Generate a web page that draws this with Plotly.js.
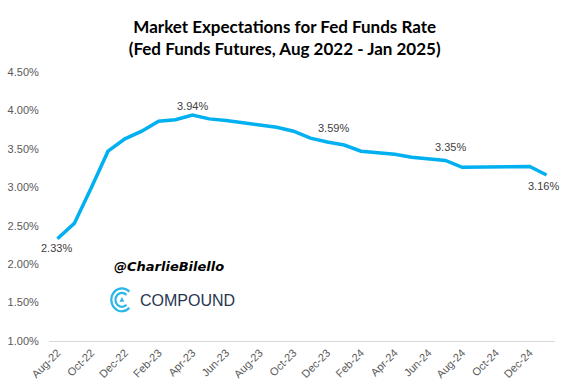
<!DOCTYPE html>
<html>
<head>
<meta charset="utf-8">
<script src="https://cdn.plot.ly/plotly-3.0.1.min.js"></script>
<style>html,body{margin:0;padding:0;background:#fff;}#chart{width:566px;height:392px;}</style>
</head>
<body>
<div id="chart"></div>
<script>
// Months (Aug 2022 - Jan 2025)
const months = ["Aug-22","Sep-22","Oct-22","Nov-22","Dec-22","Jan-23","Feb-23","Mar-23","Apr-23","May-23","Jun-23","Jul-23",
  "Aug-23","Sep-23","Oct-23","Nov-23","Dec-23","Jan-24","Feb-24","Mar-24","Apr-24","May-24","Jun-24","Jul-24",
  "Aug-24","Sep-24","Oct-24","Nov-24","Dec-24","Jan-25"];
// Expected Fed Funds Rate (%)
const rates = [2.33,2.53,2.99,3.47,3.63,3.73,3.86,3.88,3.94,3.89,3.87,3.84,
  3.82,3.78,3.73,3.64,3.59,3.55,3.47,3.45,3.43,3.39,3.37,3.35,
  3.26,3.26,3.26,3.26,3.27,3.16];
// Tick labels shown on x axis
const xTicks = ["Aug-22","Oct-22","Dec-22","Feb-23","Apr-23","Jun-23","Aug-23","Oct-23","Dec-23","Feb-24","Apr-24","Jun-24","Aug-24","Oct-24","Dec-24"];
// Which points carry a data label
const labelledMonths = ["Aug-22","Apr-23","Dec-23","Jul-24","Jan-25"];

const trace = {
  x: months, y: rates, type: "scatter", mode: "lines",
  line: {color: "#00b0f0", width: 3.5},
  hoverinfo: "skip"
};

// label placement (style only)
const labelShift = {"Aug-22": [-1, -9], "Apr-23": [0, 9], "Dec-23": [6, 14], "Jul-24": [5, 13], "Jan-25": [-3, -11]};
const dataLabels = labelledMonths.map(m => {
  const i = months.indexOf(m);
  const s = labelShift[m];
  return {x: m, y: rates[i], xref: "x", yref: "y", text: rates[i].toFixed(2) + "%",
    showarrow: false, xanchor: "center", yanchor: "middle", xshift: s[0], yshift: s[1],
    font: {family: "Liberation Sans, Arial, sans-serif", size: 11, color: "#404040"}};
});

const icon = '<svg xmlns="http://www.w3.org/2000/svg" viewBox="0 0 26 26">' +
  '<path d="M21.13 4.87 A11.5 11.5 0 1 0 21.13 21.13" fill="none" stroke="#29b6e8" stroke-width="2.3"/>' +
  '<path d="M17.95 8.05 A7 7 0 1 0 17.95 17.95" fill="none" stroke="#29b6e8" stroke-width="2.3"/>' +
  '<path d="M13 10.3 L15.6 15 L10.4 15 Z" fill="#29b6e8"/></svg>';

const layout = {
  width: 566, height: 392,
  margin: {l: 49, r: 10.5, t: 71.7, b: 51.3},
  paper_bgcolor: "#fff", plot_bgcolor: "#fff",
  showlegend: false,
  font: {family: "Liberation Sans, Arial, sans-serif", color: "#595959", size: 11},
  title: {
    text: "<b>Market Expectations for Fed Funds Rate<br>(Fed Funds Futures, Aug 2022 - Jan 2025)</b>",
    font: {family: "Lato, Liberation Sans, Arial, sans-serif", size: 17, color: "#000"},
    x: 0.503, xanchor: "center", xref: "container", y: 0.916, yref: "container", yanchor: "middle"
  },
  xaxis: {
    type: "category", range: [-0.5, 29.5],
    tickmode: "array", tickvals: xTicks, ticktext: xTicks,
    tickangle: -45, showgrid: false, zeroline: false,
    showline: true, linecolor: "#d9d9d9", linewidth: 1,
    ticks: "", tickfont: {size: 11, color: "#595959"}
  },
  yaxis: {
    range: [1, 4.5], dtick: 0.5, tick0: 1, tickformat: ".2f", ticksuffix: "%",
    showgrid: false, zeroline: false, showline: false,
    ticks: "outside", ticklen: 7, tickcolor: "rgba(0,0,0,0)",
    tickfont: {size: 11, color: "#595959"}
  },
  annotations: dataLabels.concat([
    {text: "<b><i>@CharlieBilello</i></b>", xref: "paper", yref: "paper", x: 0.237, y: 0.278,
     xanchor: "center", yanchor: "middle", showarrow: false,
     font: {family: "DejaVu Sans, sans-serif", size: 13, color: "#000"}},
    {text: "COMPOUND", xref: "paper", yref: "paper", x: 0.274, y: 0.151,
     xanchor: "center", yanchor: "middle", showarrow: false,
     font: {family: "Liberation Sans, Arial, sans-serif", size: 16, color: "#2a3550"}}
  ]),
  images: [{
    source: "data:image/svg+xml;utf8," + encodeURIComponent(icon),
    xref: "paper", yref: "paper", x: 0.1204, y: 0.2015, sizex: 0.0474, sizey: 0.0967,
    xanchor: "left", yanchor: "top", sizing: "stretch", layer: "above"
  }]
};

Plotly.newPlot("chart", [trace], layout, {displayModeBar: false, staticPlot: true});
</script>
</body>
</html>
